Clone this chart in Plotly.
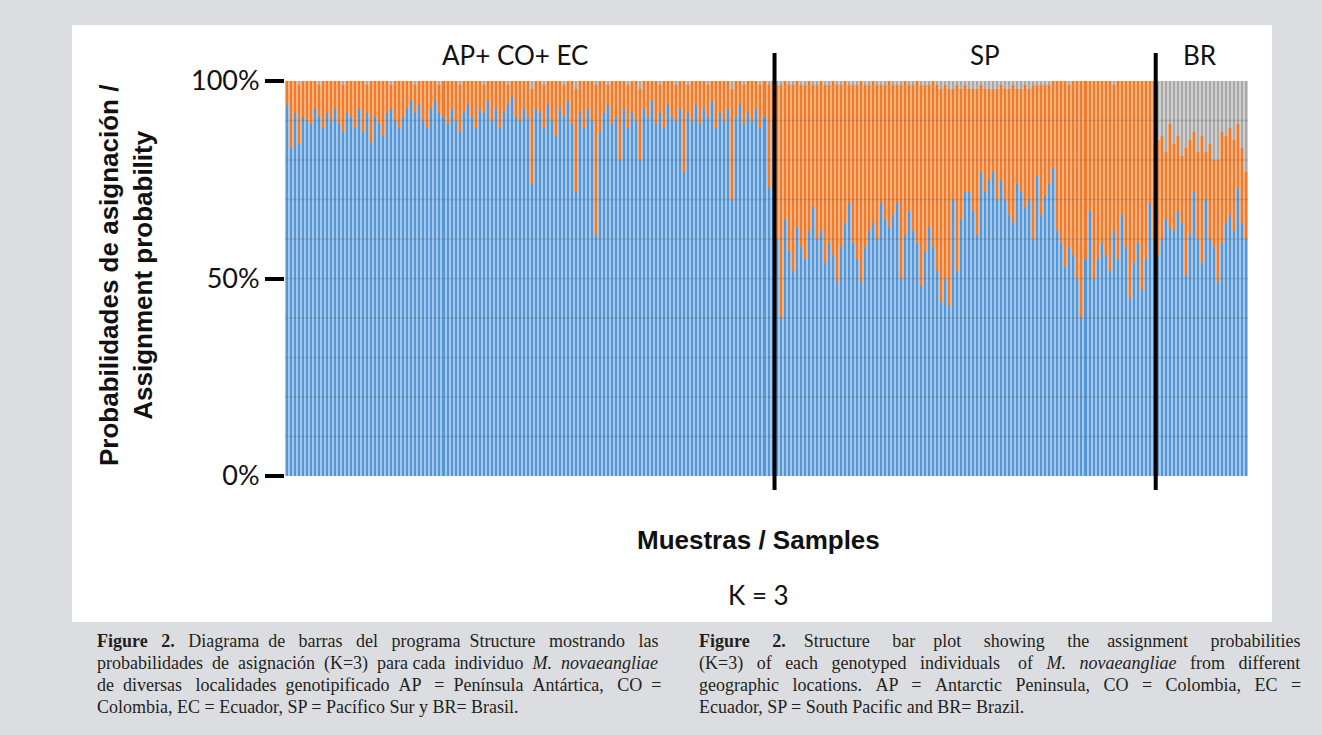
import plotly.graph_objects as go

# ---------------- data (percent) ----------------
group_names = ["AP+ CO+ EC", "SP", "BR"]
y_tick_vals = [0, 50, 100]
y_tick_text = ["0%", "50%", "100%"]
grid_levels = [10, 20, 30, 40, 50, 60, 70, 80, 90]

g1_blue = [94, 83, 92, 84, 91, 90, 89, 93, 91, 88,
           92, 90, 93, 89, 87, 92, 91, 88, 93, 87,
           92, 84.5, 91, 89, 86, 92, 93, 90, 88, 91,
           93, 95, 92, 94, 90, 88, 93, 95, 92, 91,
           89, 93, 90, 87, 92, 94, 91, 88, 93, 92,
           95, 90, 93, 88, 92, 94, 96, 91, 90, 93,
           91, 74, 93, 92, 88, 94, 90, 86, 93, 91,
           95, 89, 72, 92, 88, 93, 90, 61, 87, 92,
           94, 89, 91, 80, 93, 88, 92, 90, 80, 93,
           91, 95, 89, 92, 88, 94, 91, 90, 93, 77,
           92, 90, 94, 89, 93, 91, 95, 88, 92, 90,
           93, 70, 91, 94, 89, 92, 90, 93, 88, 91,
           73, 90]
g1_gray = [0, 0, 0, 1, 0, 0, 0, 0, 1, 0,
           0, 0, 0, 0, 1, 0, 0, 0, 0, 0,
           1, 0, 0, 0, 0, 0, 1, 0, 0, 0,
           0, 0, 1, 0, 0, 0, 0, 0, 1, 0,
           0, 0, 0, 1, 0, 0, 0, 0, 0, 1,
           0, 0, 0, 0, 0, 1, 0, 0, 0, 0,
           0, 2, 0, 0, 1, 0, 0, 0, 0, 1,
           0, 0, 2, 0, 0, 0, 0, 1, 0, 0,
           1, 0, 0, 0, 0, 1, 0, 0, 2, 0,
           0, 0, 0, 1, 0, 0, 0, 1, 0, 0,
           1, 0, 0, 0, 0, 1, 0, 0, 0, 0,
           0, 2, 0, 0, 1, 0, 0, 0, 1, 0,
           1, 0]

sp_blue = [60, 40, 65, 57, 52, 63, 58, 55, 62, 68,
           60, 62, 54, 59, 56, 49, 58, 64, 69, 59,
           55, 49, 58, 62, 64, 60, 69, 65, 63, 66,
           69, 50, 61, 67, 62, 59, 48, 57, 63, 58,
           52, 44, 50, 43, 70, 52, 65, 72, 72, 67,
           61, 77, 72, 75, 77, 70, 75, 70, 66, 64,
           74, 72, 68, 70, 60, 76, 66, 71, 74, 78,
           62, 59, 53, 58, 56, 50, 40, 55, 67, 50,
           55, 59, 56, 52, 62, 55, 66, 58, 45, 54,
           59, 47, 55, 69, 60]
sp_gray = [1, 1, 0, 1, 1, 0, 1, 1, 0, 1,
           1, 0, 1, 1, 0, 1, 1, 0, 1, 1,
           1, 0, 1, 1, 0, 1, 1, 1, 0, 1,
           1, 1, 0, 1, 1, 0, 1, 1, 1, 0,
           1, 2, 1, 2, 2, 1, 2, 1, 2, 2,
           2, 1, 2, 2, 2, 2, 1, 2, 2, 1,
           2, 2, 1, 2, 1, 1, 1, 1, 1, 0,
           0, 0, 0, 1, 0, 0, 0, 0, 0, 0,
           0, 0, 0, 0, 1, 0, 0, 0, 0, 0,
           0, 0, 0, 0, 0]

br_blue = [56, 60, 65, 63, 62, 67, 64, 51, 61, 72,
           60, 54, 70, 60, 58, 49, 59, 64, 66, 62,
           73, 64, 60]
br_top = [85, 86, 82, 89, 84, 86, 81, 83, 85, 87,
          82, 86, 82, 84, 80, 80, 87, 86, 88, 85,
          89, 83, 77]

# ---------------- assemble ----------------
blue = g1_blue + sp_blue + br_blue
gray = g1_gray + sp_gray + [100 - t for t in br_top]
orange = ([100 - b - g for b, g in zip(g1_blue, g1_gray)]
          + [100 - b - g for b, g in zip(sp_blue, sp_gray)]
          + [t - b for t, b in zip(br_top, br_blue)])
n = len(blue)
xs = list(range(n))
sizes = [len(g1_blue), len(sp_blue), len(br_blue)]

W, H = 1322, 735
def px(x):
    return x / W
def py(y):
    return 1 - y / H

light = {"blue": "#a5c8eb", "orange": "#f7b07c", "gray": "#d0d0d0"}
dark = {"blue": "#5596d6", "orange": "#ee7c2e", "gray": "#a8a8a8"}

fig = go.Figure()
for name, vals in [("blue", blue), ("orange", orange), ("gray", gray)]:
    fig.add_trace(go.Bar(x=xs, y=[v / 100 for v in vals], width=1.0,
                         marker=dict(color=light[name], line=dict(width=0)),
                         xaxis="x", yaxis="y", showlegend=False, hoverinfo="skip"))
for name, vals in [("blue", blue), ("orange", orange), ("gray", gray)]:
    fig.add_trace(go.Bar(x=xs, y=[v / 100 for v in vals], width=0.5,
                         marker=dict(color=dark[name], line=dict(width=0)),
                         xaxis="x", yaxis="y2", showlegend=False, hoverinfo="skip"))

shapes = []
shapes.append(dict(type="rect", xref="paper", yref="paper",
                   x0=px(72), x1=px(1272), y0=py(622), y1=py(25),
                   fillcolor="white", line=dict(width=0), layer="below"))
for g in grid_levels:
    shapes.append(dict(type="line", xref="x", yref="y", x0=-0.5, x1=n - 0.5,
                       y0=g / 100, y1=g / 100,
                       line=dict(color="rgba(105,105,105,0.25)", width=1.5),
                       layer="above"))
bound = 0
for s in sizes[:-1]:
    bound += s
    shapes.append(dict(type="line", xref="x", yref="paper",
                       x0=bound - 0.5, x1=bound - 0.5, y0=py(490), y1=py(53),
                       line=dict(color="black", width=4), layer="above"))

ann = []
label_x = [515, 985, 1200]
for name, lx in zip(group_names, label_x):
    ann.append(dict(text=name, x=px(lx), y=py(55), xref="paper", yref="paper",
                    showarrow=False, xanchor="center", yanchor="middle",
                    font=dict(family="Lato, Open Sans, sans-serif", size=26, color="#111")))
ann.append(dict(text="<b>Probabilidades de asignación /<br>Assignment probability</b>",
                x=px(126), y=py(276), xref="paper", yref="paper", textangle=-90,
                showarrow=False, xanchor="center", yanchor="middle",
                font=dict(family="Liberation Sans, Arial", size=26, color="#111")))
ann.append(dict(text="<b>Muestras / Samples</b>", x=px(758), y=py(540), xref="paper", yref="paper",
                showarrow=False, xanchor="center", yanchor="middle",
                font=dict(family="Liberation Sans, Arial", size=26, color="#111")))
ann.append(dict(text="K = 3", x=px(759), y=py(595), xref="paper", yref="paper",
                showarrow=False, xanchor="center", yanchor="middle",
                font=dict(family="Lato, Open Sans, sans-serif", size=26, color="#111")))

NB = "\u00a0"
def justify(line, extra_spaces):
    words = line.split(" ")
    gaps = len(words) - 1
    if gaps <= 0 or extra_spaces <= 0:
        return line
    out = words[0]
    acc = 0.0
    per = extra_spaces / gaps
    for w in words[1:]:
        prev = int(round(acc))
        acc += per
        k = int(round(acc)) - prev
        out += " " + NB * k + w
    return out

cap_left = [("<b>Figure 2.</b> Diagrama de barras del programa Structure mostrando las", 16),
            ("probabilidades de asignación (K=3) para cada individuo <i>M.</i> <i>novaeangliae</i>", 7),
            ("de diversas localidades genotipificado AP = Península Antártica, CO =", 12),
            ("Colombia, EC = Ecuador, SP = Pacífico Sur y BR= Brasil.", 0)]
cap_right = [("<b>Figure</b> <b>2.</b> Structure bar plot showing the assignment probabilities", 29),
             ("(K=3) of each genotyped individuals of <i>M.</i> <i>novaeangliae</i> from different", 19),
             ("geographic locations. AP = Antarctic Peninsula, CO = Colombia, EC =", 20),
             ("Ecuador, SP = South Pacific and BR= Brazil.", 0)]
for i, ((tl, el), (tr, er)) in enumerate(zip(cap_left, cap_right)):
    yy = py(641 + 22 * i)
    for txt, ex, xx in [(tl, el, 95), (tr, er, 697)]:
        ann.append(dict(text=justify(txt, ex), x=px(xx), y=yy, xref="paper", yref="paper",
                        showarrow=False, xanchor="left", yanchor="middle",
                        font=dict(family="Liberation Serif, Times New Roman, serif", size=18, color="#231f20")))

fig.update_layout(
    width=W, height=H,
    margin=dict(l=0, r=0, t=0, b=0),
    paper_bgcolor="#dcdde0", plot_bgcolor="rgba(0,0,0,0)",
    barmode="stack", bargap=0,
    xaxis=dict(domain=[px(285), px(1248)], range=[-0.5, n - 0.5], visible=False, fixedrange=True),
    yaxis=dict(domain=[py(476), py(81)], range=[0, 1], tickvals=[v / 100 for v in y_tick_vals],
               ticktext=y_tick_text, ticks="outside", ticklen=19, tickwidth=4, tickcolor="black",
               showgrid=False, zeroline=False, showline=False, automargin=False,
               tickfont=dict(family="Lato, Open Sans, sans-serif", size=27, color="#111")),
    yaxis2=dict(overlaying="y", range=[0, 1], visible=False),
    shapes=shapes, annotations=ann,
)
fig.write_html("out.html", config={"displayModeBar": False},
               post_script="document.body.style.margin='0';document.body.style.backgroundColor='#dcdde0';")
